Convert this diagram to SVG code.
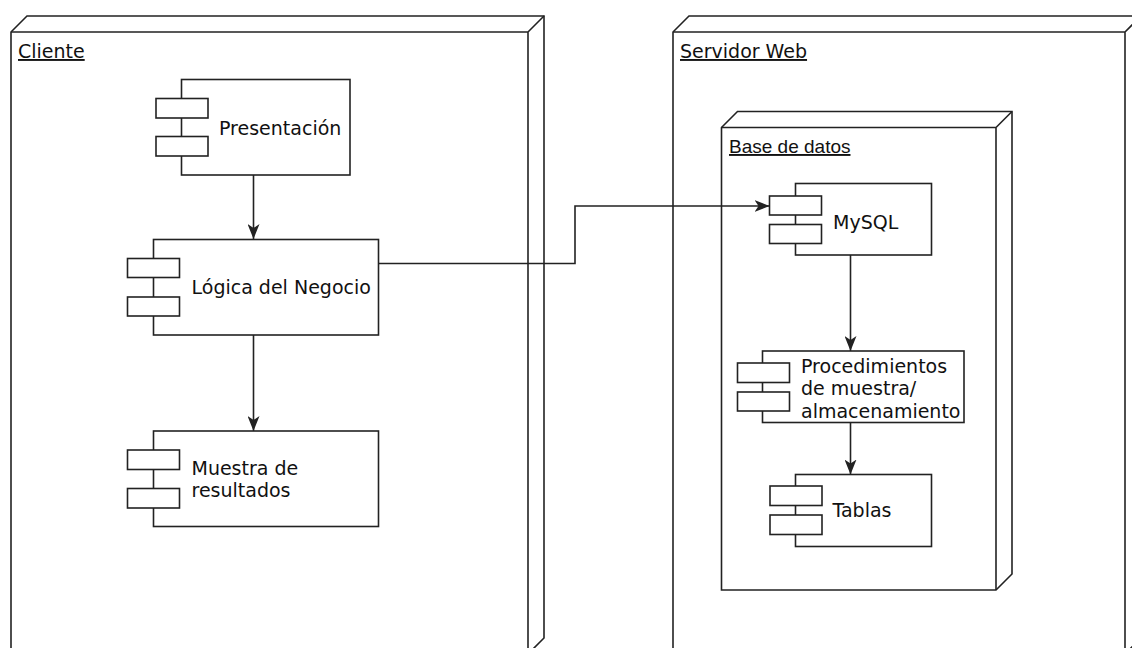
<svg xmlns="http://www.w3.org/2000/svg" width="1132" height="648" viewBox="0 0 1132 648">
<style>
.box{fill:#fff;stroke:#222;stroke-width:1.6}
.ln{fill:none;stroke:#222;stroke-width:1.6}
.t{font-family:"DejaVu Sans",Verdana,sans-serif;font-size:19px;fill:#111}
.h{font-family:"Liberation Sans",Arial,sans-serif;font-size:19px;fill:#111}
</style>
<defs>
<marker id="arr" viewBox="0 0 16 12" refX="15" refY="6" markerWidth="16" markerHeight="12" markerUnits="userSpaceOnUse" orient="auto">
<path d="M0,0 L15,6 L0,12 L4,6 z" fill="#222"/>
</marker>
</defs>
<rect width="1132" height="648" fill="#fff"/>

<g id="cliente">
<path class="box" d="M11,32 L27,16 L544,16 L544,638 L528,654 L11,654 Z"/>
<path class="ln" d="M11,32 L528,32 L528,654 M528,32 L544,16"/>
<text class="t" x="18" y="58" text-decoration="underline">Cliente</text>
</g>

<g id="servidor">
<path class="box" d="M673,32 L689,16 L1141,16 L1141,638 L1125,654 L673,654 Z"/>
<path class="ln" d="M673,32 L1125,32 L1125,654 M1125,32 L1141,16"/>
<text class="t" x="680" y="58" text-decoration="underline">Servidor Web</text>
</g>

<g id="basedatos">
<path class="box" d="M721.5,127.5 L737.5,111.5 L1012,111.5 L1012,574 L996,590 L721.5,590 Z"/>
<path class="ln" d="M721.5,127.5 L996,127.5 L996,590 M996,127.5 L1012,111.5"/>
<text class="h" x="729" y="153" text-decoration="underline">Base de datos</text>
</g>

<g id="presentacion">
<rect class="box" x="181.5" y="79.5" width="168.5" height="95.5"/>
<rect class="box" x="156" y="98.5" width="52" height="19.5"/>
<rect class="box" x="156" y="136.5" width="52" height="19.5"/>
<text class="t" x="219" y="135">Presentación</text>
</g>

<g id="logica">
<rect class="box" x="153.5" y="239.5" width="225" height="95.5"/>
<rect class="box" x="127.5" y="258.5" width="52" height="19"/>
<rect class="box" x="127.5" y="297" width="52" height="19"/>
<text class="t" x="191.5" y="294">Lógica del Negocio</text>
</g>

<g id="muestra">
<rect class="box" x="153.5" y="431" width="225" height="95.5"/>
<rect class="box" x="127.5" y="450" width="52" height="19.5"/>
<rect class="box" x="127.5" y="488.5" width="52" height="19.5"/>
<text class="t" x="191.5" y="475">Muestra de</text>
<text class="t" x="191.5" y="497">resultados</text>
</g>

<g id="mysql">
<rect class="box" x="795.5" y="183.5" width="136" height="71.5"/>
<rect class="box" x="769.5" y="196" width="52" height="19"/>
<rect class="box" x="769.5" y="224.5" width="52" height="19"/>
<text class="t" x="833" y="228.5">MySQL</text>
</g>

<g id="procedimientos">
<rect class="box" x="762.5" y="351" width="201.5" height="71.5"/>
<rect class="box" x="737.5" y="363" width="52" height="19.5"/>
<rect class="box" x="737.5" y="392" width="52" height="19"/>
<text class="t" x="801" y="373">Procedimientos</text>
<text class="t" x="801" y="395">de muestra/</text>
<text class="t" x="801" y="417.5">almacenamiento</text>
</g>

<g id="tablas">
<rect class="box" x="795.5" y="474.5" width="136" height="72"/>
<rect class="box" x="770" y="486" width="52" height="19.5"/>
<rect class="box" x="770" y="515" width="52" height="19.5"/>
<text class="t" x="832.5" y="517">Tablas</text>
</g>

<g id="connectors">
<path class="ln" d="M253.5,175 L253.5,239" marker-end="url(#arr)"/>
<path class="ln" d="M253.5,335 L253.5,431" marker-end="url(#arr)"/>
<path class="ln" d="M378.5,263.5 L575,263.5 L575,206 L769.5,206" marker-end="url(#arr)"/>
<path class="ln" d="M850.5,255 L850.5,351" marker-end="url(#arr)"/>
<path class="ln" d="M850.5,422.5 L850.5,474.5" marker-end="url(#arr)"/>
</g>
</svg>
